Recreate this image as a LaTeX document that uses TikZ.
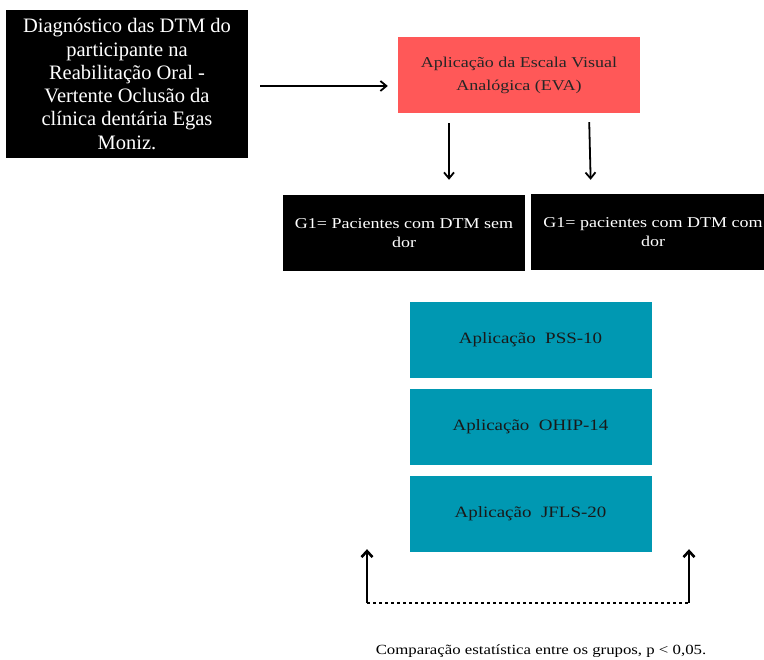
\documentclass[tikz,border=0pt]{standalone}
\usepackage{fontspec}
\setmainfont{Liberation Serif}
\newfontfamily\widefont[FakeStretch=1.2]{Liberation Serif}
\usetikzlibrary{arrows.meta}
\begin{document}
\begin{tikzpicture}[x=1pt,y=-1pt,
  box/.style={minimum width=242pt, minimum height=76pt, inner sep=0pt, align=center},
  darkbox/.style={box, fill=black, text=white},
  evabox/.style={box, fill=eva red, text=black!85},
  testbox/.style={box, fill=teal box, text=black!90, font=\widefont\fontsize{15.8}{18}\selectfont},
  link/.style={-{Straight Barb[length=6pt,width=10pt]}, line width=1.8pt},
  back/.style={-{Straight Barb[length=6pt,width=11pt]}, line width=2.6pt}]
\definecolor{eva red}{RGB}{255,88,88}
\definecolor{teal box}{RGB}{0,152,178}
\useasboundingbox (0,0) rectangle (764,660);
\clip (0,0) rectangle (764,660);

% top row
\node[darkbox, minimum height=148pt, font=\fontsize{20.5}{23.3}\selectfont] (diag) at (127,84)
  {Diagnóstico das DTM do\\participante na\\Reabilitação Oral -\\Vertente Oclusão da\\clínica dentária Egas\\Moniz.};
\node[evabox, font=\widefont\fontsize{15}{23}\selectfont] (eva) at (519,75) {Aplicação da Escala Visual\\Analógica (EVA)};
\draw[link, shorten <=12pt, shorten >=10pt] (diag.east |- 0,86) -- (eva.west |- 0,86);

% groups
\node[darkbox, font=\widefont\fontsize{15}{19}\selectfont] (semdor) at (404,233) {G1= Pacientes com DTM sem\\dor};
\node[darkbox, minimum width=244pt, font=\widefont\fontsize{15}{19}\selectfont] (comdor) at (653,232) {G1= pacientes com DTM com\\dor};
\coordinate (left) at (449,0);
\coordinate (right) at (589,0);
\draw[link, shorten <=10pt, shorten >=15pt] (eva.south -| left) -- (semdor.north -| left);
\draw[link, shorten <=9pt, shorten >=14pt] (eva.south -| right) -- ([xshift=2pt]comdor.north -| right);

% questionnaires
\node[testbox] (pss) at (530.5,340) {Aplicação~ PSS-10};
\node[testbox] (ohip) at (530.5,427) {Aplicação~ OHIP-14};
\node[testbox] (jfls) at (530.5,514) {Aplicação~ JFLS-20};

% comparison
\coordinate (c1) at (367,603);
\coordinate (c2) at (689,603);
\draw[line width=2.6pt, dash pattern=on 3pt off 3pt] (c1) -- (c2);
\draw[back] (c1) -- ([yshift=3pt]c1 |- jfls.south);
\draw[back] (c2) -- ([yshift=3pt]c2 |- jfls.south);
\node[font=\widefont\fontsize{14}{16}\selectfont] (comp) at (541,651) {Comparação estatística entre os grupos, p < 0,05.};
\end{tikzpicture}
\end{document}
